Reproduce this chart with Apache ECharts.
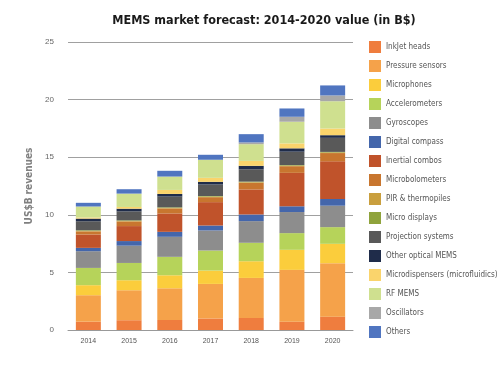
<!DOCTYPE html>
<html>
<head>
<meta charset="utf-8">
<script src="https://cdn.jsdelivr.net/npm/echarts@6/dist/echarts.min.js"></script>
<style>
  html, body { margin: 0; padding: 0; background: #fff; }
  #chart { width: 500px; height: 375px; }
</style>
</head>
<body>
<div id="chart"></div>
<script>
const years = ['2014', '2015', '2016', '2017', '2018', '2019', '2020']

// values in B$, bottom of the stack first
const inkjetHeads = [0.72, 0.85, 0.87, 1.0, 1.04, 0.72, 1.16]
const pressureSensors = [2.3, 2.6, 2.75, 3.0, 3.48, 4.5, 4.64]
const microphones = [0.87, 0.87, 1.13, 1.16, 1.45, 1.74, 1.68]
const accelerometers = [1.5, 1.5, 1.6, 1.74, 1.6, 1.45, 1.45]
const gyroscopes = [1.45, 1.5, 1.74, 1.74, 1.88, 1.83, 1.86]
const digitalCompass = [0.29, 0.4, 0.43, 0.43, 0.58, 0.5, 0.58]
const inertialCombos = [1.16, 1.3, 1.6, 2.03, 2.17, 2.9, 3.27]
const microbolometers = [0.27, 0.4, 0.43, 0.43, 0.58, 0.58, 0.72]
const pirThermopiles = [0.05, 0.05, 0.05, 0.05, 0.05, 0.05, 0.05]
const microDisplays = [0.05, 0.05, 0.05, 0.05, 0.05, 0.05, 0.05]
const projectionSystems = [0.78, 0.78, 0.93, 1.0, 1.07, 1.16, 1.22]
const otherOptical = [0.23, 0.23, 0.23, 0.23, 0.3, 0.29, 0.23]
const microdispensers = [0.1, 0.15, 0.35, 0.35, 0.43, 0.43, 0.58]
const rfMems = [0.95, 1.16, 1.16, 1.57, 1.45, 1.88, 2.37]
const oscillators = [0, 0, 0, 0, 0.15, 0.43, 0.5]
const others = [0.32, 0.38, 0.5, 0.43, 0.72, 0.72, 0.87]

const seriesList = [
  ['InkJet heads', inkjetHeads, '#ef7d3e'],
  ['Pressure sensors', pressureSensors, '#f5a24a'],
  ['Microphones', microphones, '#fbcd3c'],
  ['Accelerometers', accelerometers, '#b6d35a'],
  ['Gyroscopes', gyroscopes, '#8d8d8d'],
  ['Digital compass', digitalCompass, '#4466ab'],
  ['Inertial combos', inertialCombos, '#c0532b'],
  ['Microbolometers', microbolometers, '#c8762f'],
  ['PIR & thermopiles', pirThermopiles, '#c99f3e'],
  ['Micro displays', microDisplays, '#8fa33c'],
  ['Projection systems', projectionSystems, '#595959'],
  ['Other optical MEMS', otherOptical, '#1f2c4a'],
  ['Microdispensers (microfluidics)', microdispensers, '#fad46c'],
  ['RF MEMS', rfMems, '#cfe08f'],
  ['Oscillators', oscillators, '#a8a8a8'],
  ['Others', others, '#5075c0']
]

const font = "'DejaVu Sans Condensed', 'Liberation Sans', sans-serif"

const chart = echarts.init(document.getElementById('chart'))

chart.setOption({
  animation: false,
  title: {
    text: 'MEMS market forecast: 2014-2020 value (in B$)',
    left: 259,
    textAlign: 'center',
    top: 9,
    textStyle: { fontFamily: font, fontSize: 12.5, fontWeight: 'bold', color: '#1a1a1a' }
  },
  legend: {
    orient: 'vertical',
    left: 364,
    top: 36,
    itemWidth: 12,
    itemHeight: 12,
    itemGap: 7,
    icon: 'rect',
    textStyle: { fontFamily: font, fontSize: 8, color: '#555' },
    data: seriesList.map(s => s[0])
  },
  grid: { left: 68, right: 147, top: 42, bottom: 45 },
  xAxis: {
    type: 'category',
    data: years,
    axisTick: { show: false },
    axisLine: { lineStyle: { color: '#999' } },
    axisLabel: { fontSize: 7, color: '#555', margin: 8 }
  },
  yAxis: {
    type: 'value',
    min: 0,
    max: 25,
    interval: 5,
    name: 'US$B revenues',
    nameLocation: 'middle',
    nameGap: 34,
    nameTextStyle: { fontFamily: font, fontSize: 10, fontWeight: 'bold', color: '#808080' },
    axisLabel: { fontSize: 8, color: '#666', margin: 14 },
    splitLine: { lineStyle: { color: '#a0a0a0', width: 1 } }
  },
  series: seriesList.map(s => ({
    name: s[0],
    type: 'bar',
    stack: 'total',
    barWidth: 25,
    data: s[1],
    itemStyle: { color: s[2] }
  }))
})
</script>
</body>
</html>
